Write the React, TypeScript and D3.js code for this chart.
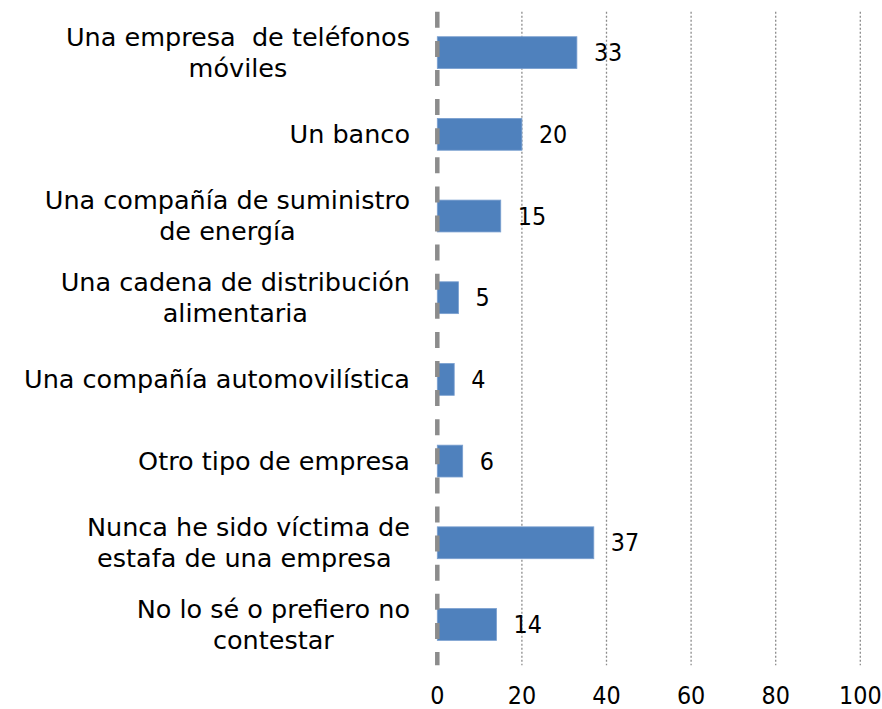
import React from "react";
import * as d3 from "d3";

const categories: string[][] = [
  ["Una empresa  de teléfonos", "móviles"],
  ["Un banco"],
  ["Una compañía de suministro", "de energía"],
  ["Una cadena de distribución", "alimentaria"],
  ["Una compañía automovilística"],
  ["Otro tipo de empresa"],
  ["Nunca he sido víctima de", "estafa de una empresa "],
  ["No lo sé o prefiero no", "contestar"],
];
const values: number[] = [33, 20, 15, 5, 4, 6, 37, 14];
const xTicks: number[] = [0, 20, 40, 60, 80, 100];

const W = 882;
const H = 709;
const FONT = "'DejaVu Sans', sans-serif";
const NUM_FONT = "'DejaVu Sans Condensed', 'DejaVu Sans', sans-serif";
const FS = 25.5;
const NFS = 24.8;

export default function App() {
  const x = d3.scaleLinear().domain([0, 100]).range([437.3, 860.3]);
  const ids = categories.map((_, i) => String(i));
  const y = d3.scaleBand<string>().domain(ids).range([11.8, 665.3]).paddingInner(0.61).paddingOuter(0.305);
  const labelRight = 410;
  const lineH = 31;

  return (
    <svg width={W} height={H} style={{ position: "absolute", left: 0, top: 0, background: "#fff" }}>
      {xTicks.filter((t) => t > 0).map((t) => (
        <line key={t} x1={x(t)} x2={x(t)} y1={11.8} y2={665.3} stroke="#8c8c8c" strokeWidth={1.3} strokeDasharray="2 2" />
      ))}
      {values.map((v, i) => (
        <rect key={i} x={x(0)} y={y(ids[i])!} width={x(v) - x(0)} height={y.bandwidth()} fill="#4f81bd" stroke="#7ba0d0" strokeWidth={0.8} />
      ))}
      <line x1={x(0)} x2={x(0)} y1={11.8} y2={665.3} stroke="#8c8c8c" strokeWidth={4.5} strokeDasharray="16 13.1" />
      {values.map((v, i) => (
        <text key={i} x={x(v) + 17} y={y(ids[i])! + y.bandwidth() / 2} dy="0.35em" fontFamily={NUM_FONT} fontSize={NFS} fill="#000">
          {v}
        </text>
      ))}
      {categories.map((lines, i) => {
        const cy = y(ids[i])! + y.bandwidth() / 2;
        return <CatLabel key={i} lines={lines} cy={cy} right={labelRight} lineH={lineH} />;
      })}
      {xTicks.map((t) => (
        <text key={t} x={x(t)} y={704} textAnchor="middle" fontFamily={NUM_FONT} fontSize={NFS} fill="#000">
          {t}
        </text>
      ))}
    </svg>
  );
}

function CatLabel({ lines, cy, right, lineH }: { lines: string[]; cy: number; right: number; lineH: number }) {
  const ref = React.useRef<SVGGElement>(null);
  const [w, setW] = React.useState(0);
  React.useLayoutEffect(() => {
    if (!ref.current) return;
    const texts = Array.from(ref.current.querySelectorAll("text")) as SVGTextElement[];
    const m = Math.max(...texts.map((t) => t.getComputedTextLength()));
    setW(m);
  }, []);
  const cx = right - w / 2;
  const y0 = cy - ((lines.length - 1) * lineH) / 2;
  return (
    <g ref={ref}>
      {lines.map((l, j) => (
        <text key={j} x={cx} y={y0 + j * lineH} dy="0.35em" textAnchor="middle" fontFamily={FONT} fontSize={FS} fill="#000" style={{ whiteSpace: "pre" }}>
          {l}
        </text>
      ))}
    </g>
  );
}
